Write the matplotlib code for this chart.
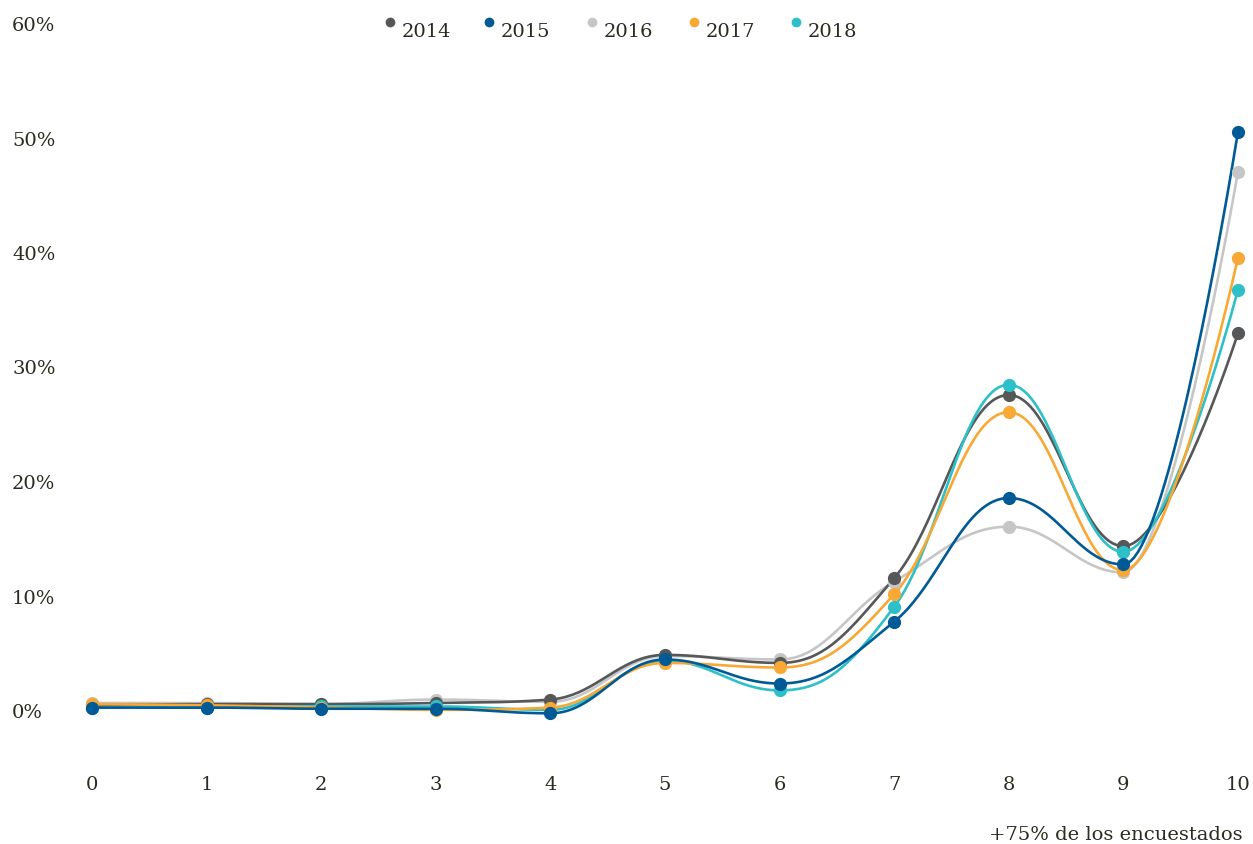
import numpy as np
import matplotlib
matplotlib.use("Agg")
import matplotlib.pyplot as plt
from matplotlib.lines import Line2D

# datos (% de encuestados por puntuacion 0-10)
scores = list(range(11))
years = ["2014", "2015", "2016", "2017", "2018"]
v2014 = [0.5, 0.6, 0.6, 0.7, 1.0, 4.9, 4.2, 11.6, 27.6, 14.4, 33.0]
v2015 = [0.3, 0.3, 0.2, 0.2, -0.2, 4.5, 2.4, 7.8, 18.6, 12.8, 50.6]
v2016 = [0.7, 0.7, 0.6, 1.0, 0.8, 4.8, 4.5, 11.3, 16.1, 12.1, 47.1]
v2017 = [0.6, 0.5, 0.3, 0.1, 0.3, 4.2, 3.8, 10.2, 26.1, 12.3, 39.6]
v2018 = [0.3, 0.3, 0.4, 0.4, 0.1, 4.4, 1.8, 9.1, 28.5, 13.9, 36.8]
series = [v2014, v2015, v2016, v2017, v2018]
colors = ["#555759", "#005a96", "#c6c6c6", "#f8a834", "#2ec0c8"]

text_color = "#2b2b1f"
plt.rcParams["font.family"] = ["DejaVu Serif"]
fs = 14


def spline(x, y, n=40, smoothing=1.5):
    # curva tipo "spline" con puntos de control y sin extremos falsos
    x = np.asarray(x, float)
    y = np.asarray(y, float)
    N = len(x)
    lcx, lcy = x.copy(), y.copy()
    rcx, rcy = x.copy(), y.copy()
    d = smoothing + 1
    for i in range(1, N - 1):
        px, py = x[i], y[i]
        lx, ly, nx, ny = x[i - 1], y[i - 1], x[i + 1], y[i + 1]
        lX = (smoothing * px + lx) / d
        lY = (smoothing * py + ly) / d
        rX = (smoothing * px + nx) / d
        rY = (smoothing * py + ny) / d
        corr = (rY - lY) * (rX - px) / (rX - lX) + py - rY
        lY += corr
        rY += corr
        if lY > ly and lY > py:
            lY = max(ly, py)
            rY = 2 * py - lY
        elif lY < ly and lY < py:
            lY = min(ly, py)
            rY = 2 * py - lY
        if rY > ny and rY > py:
            rY = max(ny, py)
            lY = 2 * py - rY
        elif rY < ny and rY < py:
            rY = min(ny, py)
            lY = 2 * py - rY
        lcx[i], lcy[i], rcx[i], rcy[i] = lX, lY, rX, rY
    t = np.linspace(0, 1, n, endpoint=False)[:, None]
    pts = []
    for i in range(N - 1):
        P0 = np.array([x[i], y[i]])
        P1 = np.array([rcx[i], rcy[i]])
        P2 = np.array([lcx[i + 1], lcy[i + 1]])
        P3 = np.array([x[i + 1], y[i + 1]])
        b = (1 - t) ** 3 * P0 + 3 * (1 - t) ** 2 * t * P1 + 3 * (1 - t) * t ** 2 * P2 + t ** 3 * P3
        pts.append(b)
    pts.append(np.array([[x[-1], y[-1]]]))
    pts = np.vstack(pts)
    return pts[:, 0], pts[:, 1]


fig = plt.figure(figsize=(12.53, 8.44), dpi=100)
ax = fig.add_axes([92 / 1253, 1 - 711 / 844, (1238 - 92) / 1253, (711 - 24) / 844])

order = [2, 0, 4, 3, 1]
for k, i in enumerate(order):
    xs, ys = spline(scores, series[i])
    ax.plot(xs, ys, color=colors[i], lw=1.9, zorder=2 + k, clip_on=False)
    ax.plot(scores, series[i], "o", color=colors[i], ms=8.5, zorder=10 + k, clip_on=False)

ax.set_xlim(0, 10)
ax.set_ylim(0, 60)
ax.set_xticks(scores)
ax.set_yticks(range(0, 61, 10))
ax.set_yticklabels([f"{v}%" for v in range(0, 61, 10)])
for s in ax.spines.values():
    s.set_visible(False)
ax.tick_params(axis="both", length=0, labelsize=fs, colors=text_color)
ax.tick_params(axis="y", pad=57.6)
ax.tick_params(axis="x", pad=47)
for lab in ax.get_yticklabels():
    lab.set_horizontalalignment("left")

# leyenda arriba
leg_x = [390, 489, 592, 694, 796]
for i, yr in enumerate(years):
    fig.add_artist(Line2D([leg_x[i] / 1253], [1 - 22 / 844], marker="o", ms=6,
                          color=colors[i], transform=fig.transFigure))
    fig.text((leg_x[i] + 12) / 1253, 1 - 32 / 844, yr, fontsize=fs,
             color=text_color, va="center", ha="left")

fig.text(1243 / 1253, 1 - 835 / 844, "+75% de los encuestados", fontsize=fs,
         color=text_color, ha="right", va="center")

fig.savefig("out.png", dpi=100)
